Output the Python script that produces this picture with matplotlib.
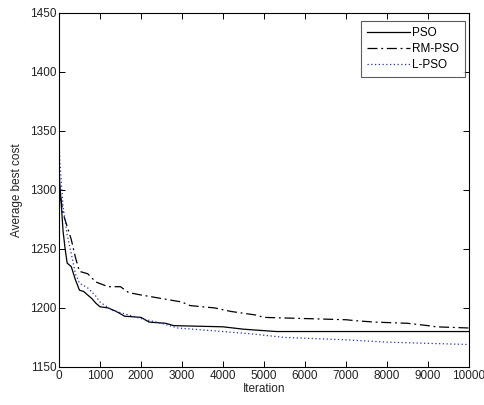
import matplotlib
matplotlib.use("Agg")
import matplotlib.pyplot as plt

plt.rcParams['font.family'] = ['Liberation Sans', 'DejaVu Sans']

# PSO (solid)
pso_x = [0, 20, 50, 100, 150, 200, 300, 400, 500, 600, 700, 800, 900, 1000, 1200, 1400, 1600,
         2000, 2200, 2600, 2800, 4000, 4500, 5300, 10000]
pso_y = [1322, 1305, 1291, 1265, 1250, 1238, 1235, 1224, 1215, 1214, 1211, 1208, 1204, 1201, 1200,
         1197, 1193, 1192, 1188, 1187, 1185, 1184, 1182, 1180, 1180]

# RM-PSO (dash-dot)
rm_x = [0, 20, 50, 100, 200, 300, 400, 500, 700, 900, 1200, 1500, 1700, 2000, 2500, 3000, 3200,
        3800, 4200, 4800, 5000, 6000, 7000, 7300, 7700, 8500, 9000, 9200, 10000]
rm_y = [1310, 1300, 1292, 1280, 1269, 1258, 1243, 1231, 1229, 1222, 1218, 1218, 1213, 1211, 1208,
        1205, 1202, 1200, 1197, 1194, 1192, 1191, 1190, 1189, 1188, 1187, 1185, 1184, 1183]

# L-PSO (dotted)
l_x = [0, 20, 50, 100, 200, 300, 400, 500, 700, 900, 1000, 1300, 1600, 2000, 2500, 2900, 4000,
       4700, 5500, 7000, 8000, 9000, 10000]
l_y = [1345, 1325, 1310, 1286, 1262, 1246, 1229, 1221, 1217, 1210, 1205, 1198, 1195, 1191, 1187,
       1183, 1180, 1178, 1175, 1173, 1171, 1170, 1169]

fs = 8.5
fig = plt.figure(figsize=(4.85, 4.05), dpi=100)
ax = fig.add_axes([0.1216, 0.094, 0.845, 0.874])
ax.plot(pso_x, pso_y, color='black', lw=0.9, label='PSO')
ax.plot(rm_x, rm_y, color='black', lw=0.9, linestyle=(0, (8, 3, 1.5, 3)), label='RM-PSO')
ax.plot(l_x, l_y, color='#2030c0', lw=0.9, linestyle=(0, (1, 2)), label='L-PSO')

ax.set_xlim(0, 10000)
ax.set_ylim(1150, 1450)
ax.set_xticks(range(0, 10001, 1000))
ax.set_yticks(range(1150, 1451, 50))
ax.tick_params(direction='in', top=True, right=True, labelsize=fs, length=4, width=0.7, pad=2,
               colors='black', labelcolor='#222222')
for s in ax.spines.values():
    s.set_linewidth(0.8)
ax.set_xlabel('Iteration', fontsize=fs, labelpad=1, color='#222222')
ax.set_ylabel('Average best cost', fontsize=fs, labelpad=5, color='#222222')
leg = ax.legend(loc='upper right', fontsize=fs, frameon=True, fancybox=False,
                edgecolor='#333333', handlelength=3.6, handletextpad=0.2, borderpad=0.5,
                labelspacing=0.35, borderaxespad=0, bbox_to_anchor=(0.99, 0.977))
leg.get_frame().set_linewidth(0.8)
fig.savefig('out.png', dpi=100)
